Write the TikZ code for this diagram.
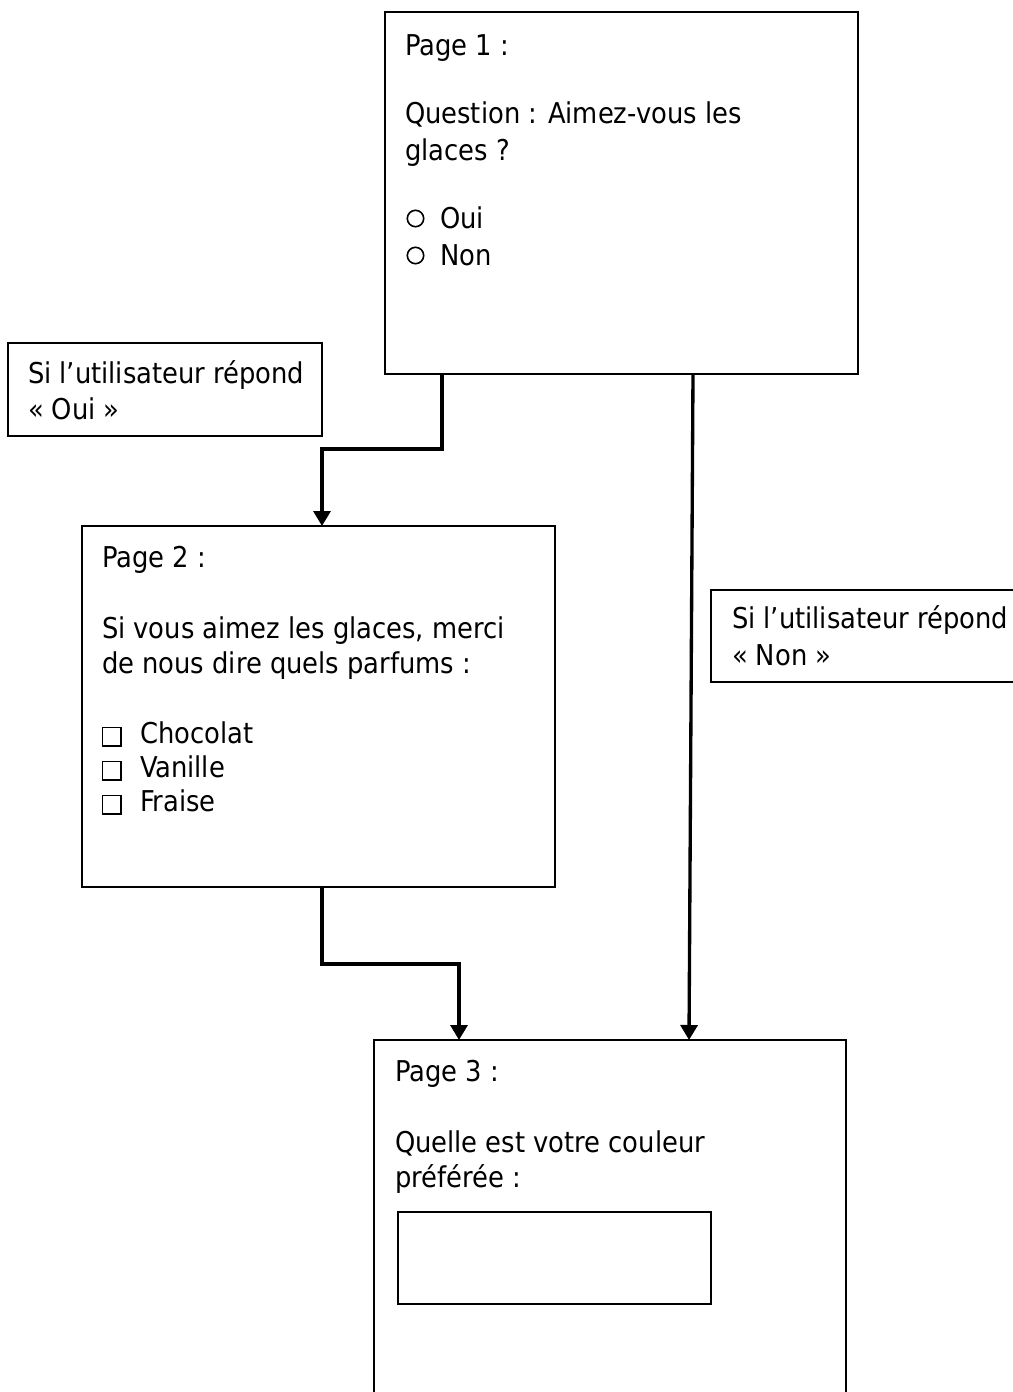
\documentclass[tikz,border=0pt]{standalone}
\usepackage{fontspec}
\setmainfont{DejaVu Sans Condensed}
\usetikzlibrary{arrows.meta,calc,fit}
\begin{document}
\begin{tikzpicture}[x=0.75pt,y=-0.75pt,
  box/.style={draw=black,line width=1.5pt,inner sep=0pt,outer sep=0pt},
  txt/.style={anchor=base west,inner sep=0pt,outer sep=0pt,font=\fontsize{21.5pt}{26pt}\selectfont},
  conn/.style={draw=black,line width=2.5pt,-{Triangle[length=11.25pt,width=12.75pt]}},
  radio/.style={draw=black,line width=1.2pt,circle,inner sep=0pt,minimum size=12.3pt},
  cbox/.style={draw=black,line width=1pt,rectangle,inner sep=0pt,minimum size=14pt}
  ]
\useasboundingbox (0,0) rectangle (1013,1392);
\fill[white] (0,0) rectangle (1013,1392);

% boxes
\node[box,fit={(385,12) (858,374)}] (p1) {};
\node[box,fit={(8,343) (322,436)}] (oui) {};
\node[box,fit={(82,526) (555,887)}] (p2) {};
\node[box,fit={(711,590) (1040,682)}] (non) {};
\node[box,fit={(374,1040) (846,1440)}] (p3) {};
\node[box,fit={(398,1212) (711,1304)}] (field) {};

% page 1 text
\node[txt] (p1t1) at (405,55) {Page 1 :};
\node[txt] (p1t2) at (405,123) {Question : Aimez-vous les};
\node[txt] (p1t3) at (405,160) {glaces ?};
\node[radio] (r1) at (415.5,218.5) {};
\node[txt] (p1t4) at (440,228) {Oui};
\node[radio] (r2) at (415.5,255.5) {};
\node[txt] (p1t5) at (440,265) {Non};

% oui label
\node[txt] (o1) at (28,383) {Si l’utilisateur répond};
\node[txt] (o2) at (28,419) {« Oui »};

% page 2 text
\node[txt] (p2t1) at (102,567) {Page 2 :};
\node[txt] (p2t2) at (102,638) {Si vous aimez les glaces, merci};
\node[txt] (p2t3) at (102,673) {de nous dire quels parfums :};
\node[cbox] (c1) at (111.5,736.5) {};
\node[txt] (p2t4) at (140,743) {Chocolat};
\node[cbox] (c2) at (111.5,770.5) {};
\node[txt] (p2t5) at (140,777) {Vanille};
\node[cbox] (c3) at (111.5,804.5) {};
\node[txt] (p2t6) at (140,811) {Fraise};

% non label
\node[txt] (n1) at (732,628) {Si l’utilisateur répond};
\node[txt] (n2) at (732,665) {« Non »};

% page 3 text
\node[txt] (p3t1) at (395,1081) {Page 3 :};
\node[txt] (p3t2) at (395,1152) {Quelle est votre couleur};
\node[txt] (p3t3) at (395,1187) {préférée :};

% connectors
\draw[conn] ($(p1.south west)+(57,0)$) -- ++(0,75) -| ($(p2.north west)+(240,0)$);
\draw[conn] ($(p2.south west)+(240,0)$) -- ++(0,77) -| ($(p3.north west)+(85,0)$);
\draw[conn] ($(p1.south west)+(308,0)$) -- ($(p3.north west)+(315,0)$);
\end{tikzpicture}
\end{document}
